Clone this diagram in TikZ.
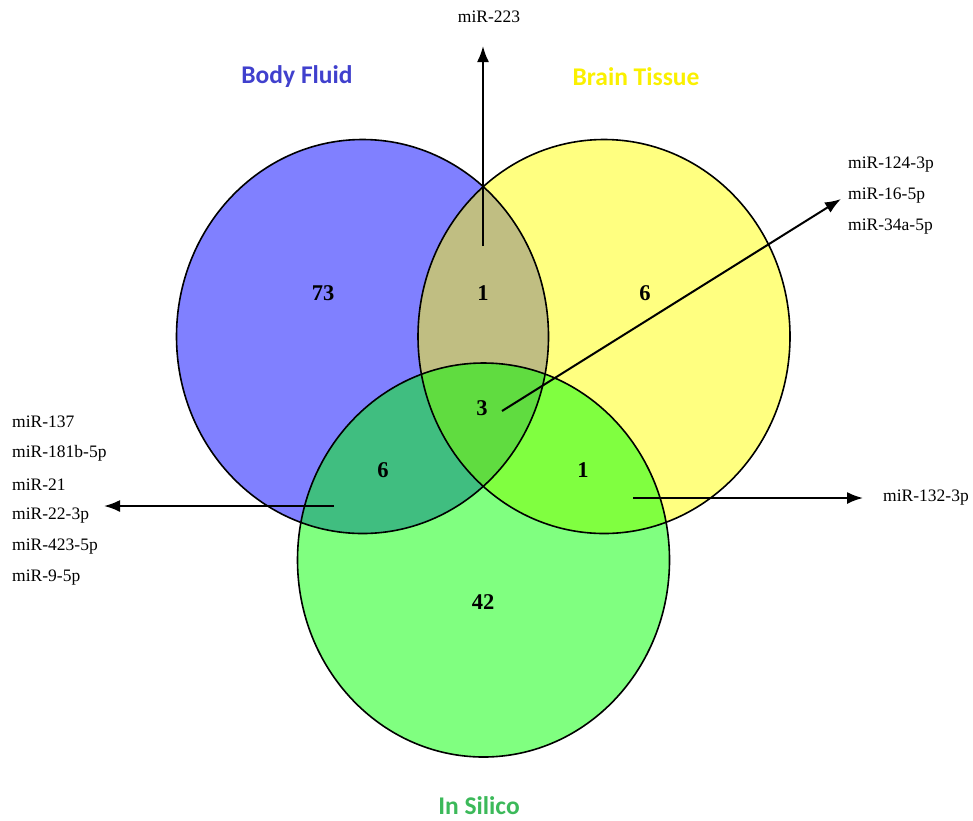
\documentclass[tikz,border=0pt]{standalone}
\usepackage{fontspec}
\setmainfont{Liberation Serif}
\newfontfamily\calfont{Carlito}
\usetikzlibrary{arrows.meta}

\definecolor{bfcol}{RGB}{128,128,255}
\definecolor{btcol}{RGB}{255,255,128}
\definecolor{iscol}{RGB}{128,255,128}
\definecolor{bfbtcol}{RGB}{192,190,130}
\definecolor{bfiscol}{RGB}{64,190,128}
\definecolor{btiscol}{RGB}{128,255,64}
\definecolor{allcol}{RGB}{96,220,64}
\definecolor{bftext}{RGB}{64,64,205}
\definecolor{bttext}{RGB}{250,240,0}
\definecolor{istext}{RGB}{60,185,90}

\def\bfpath{(362.5,336.5) ellipse [x radius=186, y radius=197]}
\def\btpath{(604,336.5) ellipse [x radius=186, y radius=197]}
\def\ispath{(483.5,560) ellipse [x radius=186, y radius=197]}

\begin{document}
\begin{tikzpicture}[
    x=1pt, y=-1pt,
    count/.style={font=\fontsize{22.5}{26}\selectfont\bfseries},
    mirna/.style={font=\fontsize{17.5}{20}\selectfont, anchor=west, inner sep=0pt},
    setname/.style={font=\calfont\fontsize{25.5}{28}\selectfont\bfseries},
    ring/.style={draw, line width=1.6pt},
    arrow/.style={-{Latex[length=16pt, width=12pt]}, line width=2pt}
]
    \useasboundingbox (0,0) rectangle (973,820);

    % sets
    \fill[bfcol] \bfpath;
    \fill[btcol] \btpath;
    \fill[iscol] \ispath;
    \begin{scope}
        \clip \bfpath;
        \fill[bfbtcol] \btpath;
        \fill[bfiscol] \ispath;
    \end{scope}
    \begin{scope}
        \clip \btpath;
        \fill[btiscol] \ispath;
    \end{scope}
    \begin{scope}
        \clip \bfpath;
        \clip \btpath;
        \fill[allcol] \ispath;
    \end{scope}
    \draw[ring] \bfpath;
    \draw[ring] \btpath;
    \draw[ring] \ispath;

    % set names
    \node[setname, text=bftext] (bf) at (297,77) {Body Fluid};
    \node[setname, text=bttext] (bt) at (636,77) {Brain Tissue};
    \node[setname, text=istext] (is) at (479,806) {In Silico};

    % counts
    \node[count] (n73) at (323,293) {73};
    \node[count] (nbfbt) at (483,293) {1};
    \node[count] (nbt) at (645,293) {6};
    \node[count] (nall) at (482,408) {3};
    \node[count] (nbfis) at (383,470) {6};
    \node[count] (nbtis) at (583,470) {1};
    \node[count] (n42) at (483,602) {42};

    % miRNA lists
    \node[mirna, anchor=center] (l223) at (489,17) {miR-223};
    \foreach \name [count=\i] in {miR-124-3p, miR-16-5p, miR-34a-5p}
        \node[mirna] (r\i) at (848,{165+31*(\i-1)}) {\name};
    \node[mirna] (l132) at (883,498) {miR-132-3p};
    \foreach \name [count=\i] in {miR-137, miR-181b-5p, miR-21, miR-22-3p, miR-423-5p, miR-9-5p}
        \node[mirna] (m\i) at (12,{422+31.2*(\i-1)}) {\name};

    % arrows
    \coordinate (s223) at (483,246);
    \coordinate (t223) at (483,46);
    \coordinate (sall) at (502,411);
    \coordinate (tall) at (841,199);
    \coordinate (sbtis) at (633,498);
    \coordinate (tbtis) at (863,498);
    \coordinate (sbfis) at (334,506);
    \coordinate (tbfis) at (104,506);
    \draw[arrow] (s223) -- (t223);
    \draw[arrow] (sall) -- (tall);
    \draw[arrow] (sbtis) -- (tbtis);
    \draw[arrow] (sbfis) -- (tbfis);
\end{tikzpicture}
\end{document}
